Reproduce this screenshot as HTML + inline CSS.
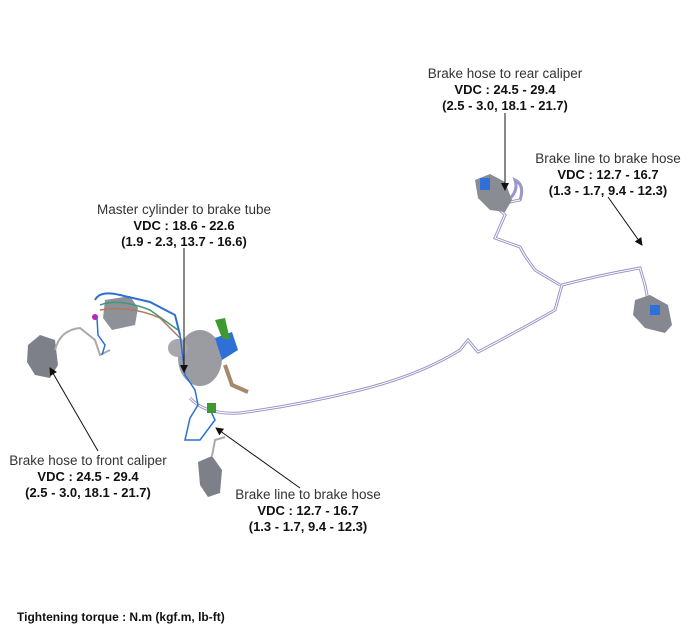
<!DOCTYPE html>
<html><head><meta charset="utf-8"><style>
body{margin:0;background:#fff;}
svg{display:block;font-family:"Liberation Sans",sans-serif;}
.t{font-size:13.5px;fill:#333;text-anchor:middle;}
.b{font-size:13px;font-weight:bold;fill:#111;text-anchor:middle;}
.ln{fill:none;stroke:#9a98c8;stroke-width:3;}
.li{fill:none;stroke:#fff;stroke-width:1;}
</style></head><body>
<svg width="700" height="639" viewBox="0 0 700 639">
<defs><marker id="a" markerWidth="8" markerHeight="8" refX="7" refY="4" orient="auto"><path d="M0,0 L8,4 L0,8 z" fill="#111"/></marker></defs>
<g>
<path class="ln" d="M190,398 Q205,415 240,413 Q300,405 360,390 Q420,375 460,350 L468,340 L478,352 Q520,330 555,310 L562,285 Q600,275 640,268 L645,285 L648,300"/>
<path class="li" d="M190,398 Q205,415 240,413 Q300,405 360,390 Q420,375 460,350 L468,340 L478,352 Q520,330 555,310 L562,285 Q600,275 640,268 L645,285 L648,300"/>
<path class="ln" d="M560,285 L535,270 L525,256 L520,247 L495,238 L505,215 L495,205 L520,200 Q525,185 515,180 Q520,195 500,205"/>
<path class="li" d="M560,285 L535,270 L525,256 L520,247 L495,238 L505,215 L495,205 L520,200"/>
</g>
<path d="M475,180 L490,174 L505,182 L512,200 L505,212 L490,210 L478,198 z" fill="#8a8c94"/>
<rect x="480" y="178" width="10" height="12" fill="#2f6fd8"/>
<path d="M635,300 L650,295 L668,305 L672,325 L665,333 L645,328 L633,315 z" fill="#858891"/>
<rect x="650" y="305" width="10" height="10" fill="#2f6fd8"/>
<path d="M28,345 L40,335 L55,340 L58,365 L50,378 L35,375 L27,362 z" fill="#7d8089"/>
<path d="M55,350 Q60,330 80,328 L95,340 L100,355 L110,350" fill="none" stroke="#aaa" stroke-width="2"/>
<path d="M105,300 L130,296 L138,308 L135,325 L112,330 L103,318 z" fill="#8f9198"/>
<path d="M95,300 Q100,290 120,295 L150,302 L175,315 L180,335" fill="none" stroke="#2c6fd6" stroke-width="2"/>
<path d="M100,305 Q120,298 150,310 L178,330" fill="none" stroke="#3a9a7a" stroke-width="1.5"/>
<path d="M100,310 Q130,305 160,318 L182,340" fill="none" stroke="#b07a5c" stroke-width="1.5"/>
<circle cx="95" cy="317" r="3" fill="#c020c0"/>
<path d="M97,318 L98,335 L105,345 L102,355" fill="none" stroke="#2c6fd6" stroke-width="1.5"/>
<ellipse cx="200" cy="358" rx="22" ry="28" fill="#9a9ca2"/>
<ellipse cx="178" cy="348" rx="10" ry="9" fill="#a6a8ae"/>
<path d="M215,338 L232,332 L238,350 L222,360 z" fill="#2f6fd8"/>
<path d="M215,320 L225,318 L230,340 L222,338 z" fill="#3e9a30"/>
<path d="M225,365 L232,385 L248,392" fill="none" stroke="#a58a6a" stroke-width="4"/>
<path d="M180,335 L185,375 L195,390 L198,405 L190,418 L185,440 L200,440 L215,420 L208,405" fill="none" stroke="#2c6fd6" stroke-width="1.5"/>
<rect x="207" y="403" width="9" height="10" fill="#3e9a30"/>
<path d="M198,462 L212,456 L222,470 L220,493 L208,497 L200,485 z" fill="#7d8089"/>
<path d="M212,456 L215,440 L225,437" fill="none" stroke="#aaa" stroke-width="2"/>
<g stroke="#111" stroke-width="1" marker-end="url(#a)">
<line x1="505" y1="113" x2="505" y2="190"/>
<line x1="608" y1="197" x2="642" y2="245"/>
<line x1="184" y1="248" x2="184" y2="372"/>
<line x1="98" y1="451" x2="50" y2="368"/>
<line x1="300" y1="488" x2="216" y2="428"/>
</g>
<text class="t" x="505" y="78">Brake hose to rear caliper</text>
<text class="b" x="505" y="94">VDC : 24.5 - 29.4</text>
<text class="b" x="505" y="110">(2.5 - 3.0, 18.1 - 21.7)</text>
<text class="t" x="608" y="163">Brake line to brake hose</text>
<text class="b" x="608" y="179">VDC : 12.7 - 16.7</text>
<text class="b" x="608" y="195">(1.3 - 1.7, 9.4 - 12.3)</text>
<text class="t" x="184" y="214">Master cylinder to brake tube</text>
<text class="b" x="184" y="230">VDC : 18.6 - 22.6</text>
<text class="b" x="184" y="246">(1.9 - 2.3, 13.7 - 16.6)</text>
<text class="t" x="88" y="465">Brake hose to front caliper</text>
<text class="b" x="88" y="481">VDC : 24.5 - 29.4</text>
<text class="b" x="88" y="497">(2.5 - 3.0, 18.1 - 21.7)</text>
<text class="t" x="308" y="499">Brake line to brake hose</text>
<text class="b" x="308" y="515">VDC : 12.7 - 16.7</text>
<text class="b" x="308" y="531">(1.3 - 1.7, 9.4 - 12.3)</text>
<text x="17" y="621" style="font-size:12px;font-weight:bold;fill:#111">Tightening torque : N.m (kgf.m, lb-ft)</text>
</svg>
</body></html>
